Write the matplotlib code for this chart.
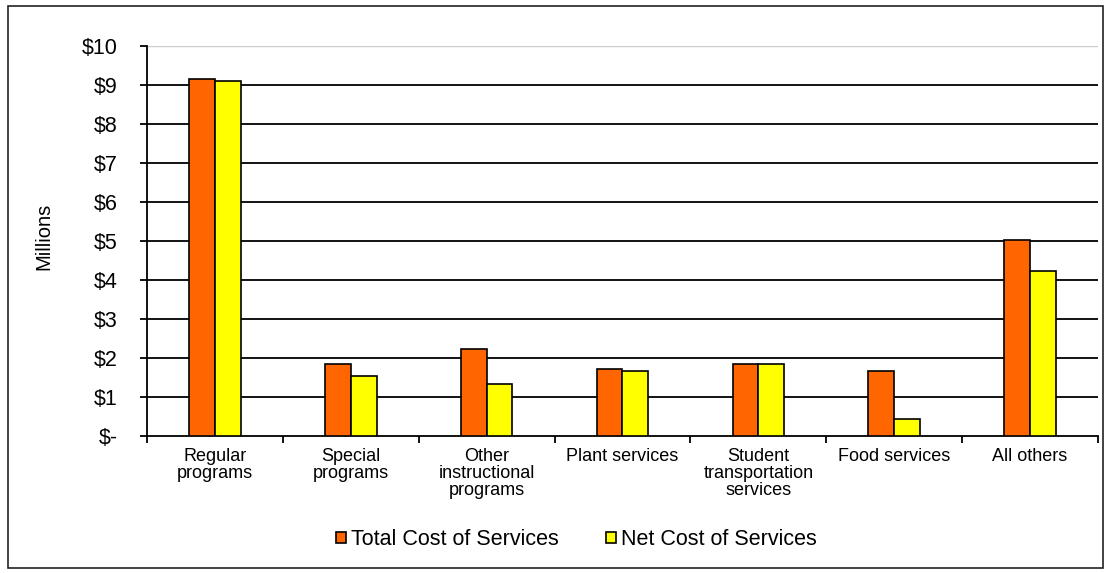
import matplotlib.pyplot as plt
import numpy as np
from matplotlib.patches import Rectangle

plt.rcParams['font.family'] = ['Liberation Sans', 'DejaVu Sans']

# Data (millions of dollars)
categories = ['Regular\nprograms', 'Special\nprograms', 'Other\ninstructional\nprograms',
              'Plant services', 'Student\ntransportation\nservices', 'Food services', 'All others']
total_cost = [9.15, 1.85, 2.24, 1.71, 1.84, 1.67, 5.03]
net_cost = [9.10, 1.55, 1.33, 1.67, 1.84, 0.44, 4.24]
y_ticks = [0, 1, 2, 3, 4, 5, 6, 7, 8, 9, 10]
y_labels = ['$-'] + ['$%d' % v for v in y_ticks[1:]]

fig = plt.figure(figsize=(11.09, 5.73), dpi=100)
ax = fig.add_axes([0.1326, 0.2391, 0.8574, 0.6806])

# outer frame of the chart
fig.patches.append(Rectangle((0.007, 0.009), 0.988, 0.981, transform=fig.transFigure,
                             fill=False, edgecolor='#222222', linewidth=1.2))

x = np.arange(len(categories))
w = 0.19
ax.bar(x - w / 2, total_cost, w, color='#FF6600', edgecolor='black', linewidth=1.2,
       label='Total Cost of Services', zorder=3)
ax.bar(x + w / 2, net_cost, w, color='#FFFF00', edgecolor='black', linewidth=1.2,
       label='Net Cost of Services', zorder=3)

# gridlines
for v in y_ticks[1:-1]:
    ax.axhline(v, color='black', linewidth=1.3, zorder=1)
ax.axhline(10, color='#cccccc', linewidth=1.0, zorder=1)

ax.set_xlim(-0.5, len(categories) - 0.5)
ax.set_ylim(0, 10)
ax.set_yticks(y_ticks)
ax.set_yticklabels(y_labels, fontsize=15.5)
fig.text(0.0397, 0.588, 'Millions', fontsize=14.5, rotation=90, ha='center', va='center')

ax.set_xticks(np.arange(-0.5, len(categories)))
ax.set_xticklabels([])
ax.set_xticks(x, minor=True)
ax.set_xticklabels(categories, minor=True, fontsize=13, linespacing=1.0)
ax.tick_params(axis='x', which='minor', length=0, pad=9)
ax.tick_params(axis='x', which='major', length=5, width=1.3, direction='out')
ax.tick_params(axis='y', length=5, width=1.3, direction='out', pad=16)

for s in ['top', 'right']:
    ax.spines[s].set_visible(False)
for s in ['left', 'bottom']:
    ax.spines[s].set_linewidth(1.3)

leg = fig.legend(loc='center', bbox_to_anchor=(0.52, 0.058), ncol=2, frameon=False,
                 fontsize=15.5, handlelength=0.45, handleheight=0.45, handletextpad=0.25,
                 columnspacing=2.2)

fig.savefig('out.png', dpi=100)
